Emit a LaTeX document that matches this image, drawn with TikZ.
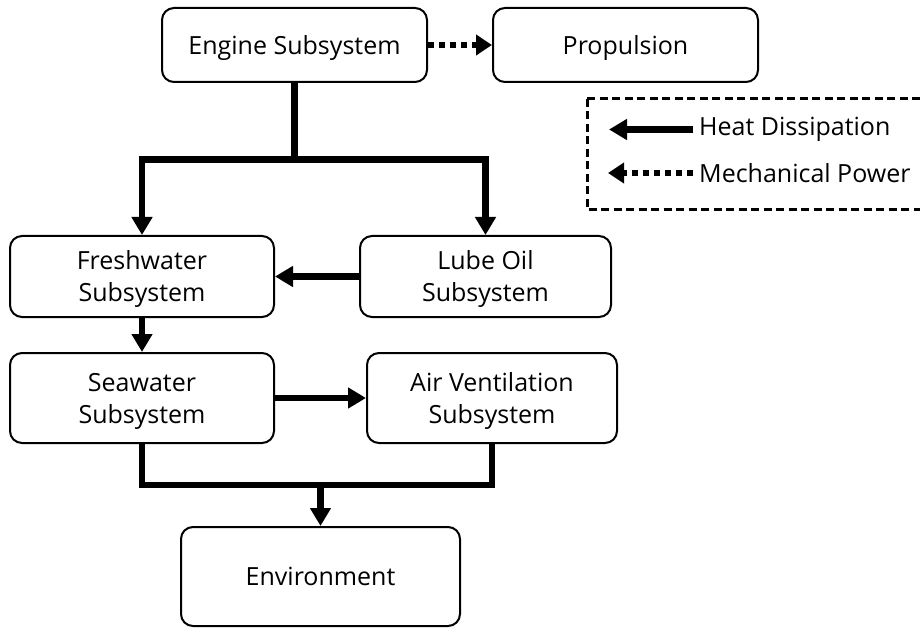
\documentclass[tikz,border=0pt]{standalone}
\usepackage{fontspec}
\setmainfont{Open Sans}
\usetikzlibrary{arrows.meta}
\begin{document}
\begin{tikzpicture}[x=1pt,y=-1pt,
  lbl/.style={font=\fontsize{25}{32}\selectfont},
  box/.style={draw, line width=2pt, rounded corners=12pt, inner sep=0pt, align=center, text depth=0pt, lbl},
  heatline/.style={line width=6.5pt},
  heat/.style={heatline, -{Triangle[length=18pt,width=20pt]}},
  mech/.style={line width=6pt, dash pattern=on 6pt off 5pt, -{Triangle[length=16pt,width=20pt]}},
  legbox/.style={line width=3pt, dash pattern=on 8pt off 4.5pt},
]
\useasboundingbox (0,0) rectangle (920,628);

\node[box, minimum width=265pt, minimum height=74pt] (eng) at (294.5,45) {Engine Subsystem};
\node[box, minimum width=265pt, minimum height=74pt] (prop) at (625.5,45) {Propulsion};
\node[box, minimum width=264pt, minimum height=81pt] (fw) at (142,276.5) {Freshwater\\Subsystem};
\node[box, minimum width=251pt, minimum height=81pt] (lube) at (485.5,276.5) {Lube Oil\\Subsystem};
\node[box, minimum width=264pt, minimum height=90pt] (sw) at (142,398) {Seawater\\Subsystem};
\node[box, minimum width=250pt, minimum height=90pt] (av) at (492,398) {Air Ventilation\\Subsystem};
\node[box, minimum width=279pt, minimum height=99pt] (env) at (320.5,576.5) {Environment};

% engine to propulsion
\draw[mech] (eng.east) -- (prop.west);

% engine split
\coordinate (split) at (294.5,159.5);
\draw[heatline] (eng.south) -- (split);
\draw[heat] (split) -| (fw.north);
\draw[heat] (split) -| (lube.north);

\draw[heat] (lube.west) -- (fw.east);
\draw[heat] (fw.south) -- (sw.north);
\draw[heat] (sw.east) -- (av.west);

% merge to environment
\coordinate (mrg) at (320.5,485);
\draw[heatline] (sw.south) -- (sw.south |- mrg) -- (av.south |- mrg) -- (av.south);
\draw[heat] (mrg) -- (env.north);

% legend
\draw[legbox] (587,99) rectangle (930,210);
\node[lbl, anchor=west, inner xsep=6pt, inner ysep=0pt] (lh) at (693,129.5) {Heat Dissipation};
\node[lbl, anchor=west, inner xsep=6pt, inner ysep=0pt] (lm) at (693,173) {Mechanical Power};
\coordinate (lh0) at (609,129.5);
\coordinate (lm0) at (608,173);
\draw[heat] (lh.west) -- (lh0);
\draw[mech] (lm.west) -- (lm0);
\end{tikzpicture}
\end{document}
